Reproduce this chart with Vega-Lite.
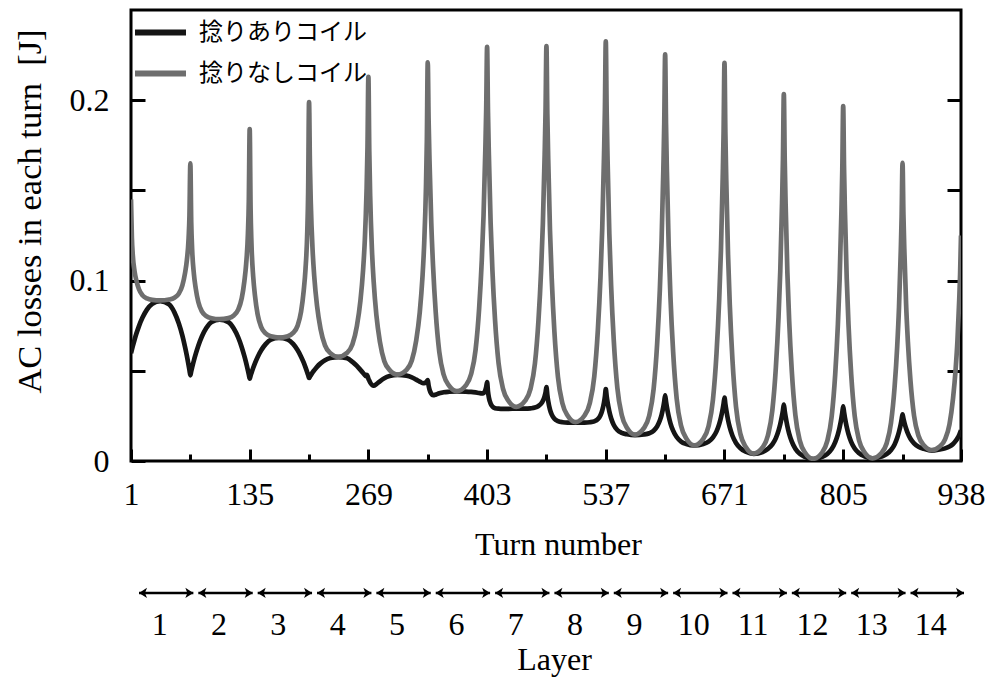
{
  "$schema": "https://vega.github.io/schema/vega-lite/v6.json",
  "padding": {"left": 10, "top": 4, "right": 5, "bottom": 5},
  "bounds": "flush",
  "spacing": 117,
  "config": {
    "font": "Liberation Serif",
    "view": {"stroke": null},
    "axis": {"labelFont": "Liberation Serif", "titleFont": "Liberation Serif", "labelColor": "black", "titleColor": "black", "titleFontWeight": "normal", "tickColor": "black", "grid": false}
  },
  "vconcat": [
    {
      "width": 830,
      "height": 451,
      "view": {"stroke": "black", "strokeWidth": 3},
      "data": {"values": [
        {"turn":1,"twisted":0.0597,"plain":0.145},{"turn":2,"twisted":0.0617,"plain":0.1237},{"turn":3,"twisted":0.0636,"plain":0.1142},{"turn":5,"twisted":0.0672,"plain":0.1052},{"turn":7,"twisted":0.0705,"plain":0.1002},{"turn":10,"twisted":0.0748,"plain":0.0952},{"turn":14,"twisted":0.0795,"plain":0.0918},{"turn":19,"twisted":0.0839,"plain":0.0901},{"turn":25,"twisted":0.0871,"plain":0.0893},{"turn":34,"twisted":0.0886,"plain":0.089},{"turn":44,"twisted":0.0868,"plain":0.0895},{"turn":50,"twisted":0.0824,"plain":0.0905},{"turn":55,"twisted":0.0762,"plain":0.0928},{"turn":59,"twisted":0.0695,"plain":0.0974},{"turn":62,"twisted":0.0632,"plain":0.1042},{"turn":64,"twisted":0.0585,"plain":0.111},{"turn":66,"twisted":0.0532,"plain":0.1232},{"turn":67,"twisted":0.0504,"plain":0.1361},{"turn":68,"twisted":0.0475,"plain":0.165},
        {"turn":69,"twisted":0.0497,"plain":0.1322},{"turn":70,"twisted":0.0518,"plain":0.1175},{"turn":72,"twisted":0.0557,"plain":0.1037},{"turn":74,"twisted":0.0592,"plain":0.0959},{"turn":77,"twisted":0.0639,"plain":0.0881},{"turn":81,"twisted":0.069,"plain":0.0829},{"turn":86,"twisted":0.0737,"plain":0.0803},{"turn":92,"twisted":0.0771,"plain":0.0791},{"turn":101,"twisted":0.0784,"plain":0.0786},{"turn":111,"twisted":0.077,"plain":0.0792},{"turn":117,"twisted":0.0734,"plain":0.0807},{"turn":122,"twisted":0.0685,"plain":0.0839},{"turn":126,"twisted":0.0631,"plain":0.0902},{"turn":129,"twisted":0.0581,"plain":0.0997},{"turn":131,"twisted":0.0544,"plain":0.1092},{"turn":133,"twisted":0.0502,"plain":0.126},{"turn":134,"twisted":0.048,"plain":0.1439},{"turn":135,"twisted":0.0457,"plain":0.184},
        {"turn":136,"twisted":0.0473,"plain":0.1401},{"turn":137,"twisted":0.0488,"plain":0.1204},{"turn":139,"twisted":0.0517,"plain":0.1019},{"turn":141,"twisted":0.0543,"plain":0.0915},{"turn":144,"twisted":0.0577,"plain":0.0811},{"turn":148,"twisted":0.0614,"plain":0.0742},{"turn":153,"twisted":0.0648,"plain":0.0707},{"turn":159,"twisted":0.0673,"plain":0.0691},{"turn":168,"twisted":0.0682,"plain":0.0684},{"turn":178,"twisted":0.0673,"plain":0.0692},{"turn":184,"twisted":0.0649,"plain":0.071},{"turn":189,"twisted":0.0615,"plain":0.0749},{"turn":193,"twisted":0.0578,"plain":0.0828},{"turn":196,"twisted":0.0545,"plain":0.0945},{"turn":198,"twisted":0.0519,"plain":0.1063},{"turn":200,"twisted":0.0491,"plain":0.1272},{"turn":201,"twisted":0.0476,"plain":0.1494},{"turn":202,"twisted":0.046,"plain":0.199},
        {"turn":203,"twisted":0.0468,"plain":0.1637},{"turn":204,"twisted":0.0476,"plain":0.1425},{"turn":206,"twisted":0.0491,"plain":0.117},{"turn":208,"twisted":0.0504,"plain":0.1015},{"turn":211,"twisted":0.0522,"plain":0.086},{"turn":215,"twisted":0.0541,"plain":0.0732},{"turn":220,"twisted":0.0559,"plain":0.0641},{"turn":226,"twisted":0.0571,"plain":0.0598},{"turn":235,"twisted":0.0576,"plain":0.0577},{"turn":245,"twisted":0.0569,"plain":0.06},{"turn":251,"twisted":0.0549,"plain":0.0647},{"turn":256,"twisted":0.0527,"plain":0.0748},{"turn":260,"twisted":0.0505,"plain":0.0888},{"turn":263,"twisted":0.0488,"plain":0.1058},{"turn":265,"twisted":0.0476,"plain":0.1229},{"turn":266,"twisted":0.0471,"plain":0.1354},{"turn":267,"twisted":0.0478,"plain":0.1509},{"turn":268,"twisted":0.0472,"plain":0.1742},{"turn":269,"twisted":0.0456,"plain":0.213},
        {"turn":270,"twisted":0.0446,"plain":0.1717},{"turn":271,"twisted":0.0435,"plain":0.147},{"turn":273,"twisted":0.0422,"plain":0.1172},{"turn":275,"twisted":0.0417,"plain":0.0991},{"turn":278,"twisted":0.0426,"plain":0.0809},{"turn":282,"twisted":0.0442,"plain":0.0661},{"turn":287,"twisted":0.0459,"plain":0.0553},{"turn":293,"twisted":0.0471,"plain":0.0504},{"turn":302,"twisted":0.0477,"plain":0.0479},{"turn":312,"twisted":0.0473,"plain":0.0505},{"turn":318,"twisted":0.0464,"plain":0.0557},{"turn":323,"twisted":0.0451,"plain":0.0669},{"turn":327,"twisted":0.044,"plain":0.0825},{"turn":330,"twisted":0.0432,"plain":0.1016},{"turn":332,"twisted":0.0431,"plain":0.1206},{"turn":334,"twisted":0.0437,"plain":0.1518},{"turn":335,"twisted":0.0442,"plain":0.1777},{"turn":336,"twisted":0.0448,"plain":0.221},
        {"turn":337,"twisted":0.0418,"plain":0.1882},{"turn":338,"twisted":0.0396,"plain":0.1663},{"turn":340,"twisted":0.0373,"plain":0.1317},{"turn":342,"twisted":0.0365,"plain":0.108},{"turn":345,"twisted":0.0368,"plain":0.0825},{"turn":349,"twisted":0.0375,"plain":0.0606},{"turn":354,"twisted":0.0381,"plain":0.0478},{"turn":360,"twisted":0.0384,"plain":0.0418},{"turn":369,"twisted":0.0386,"plain":0.0387},{"turn":379,"twisted":0.0385,"plain":0.0419},{"turn":385,"twisted":0.0383,"plain":0.0482},{"turn":390,"twisted":0.038,"plain":0.0616},{"turn":394,"twisted":0.0377,"plain":0.0845},{"turn":397,"twisted":0.0375,"plain":0.1112},{"turn":399,"twisted":0.0377,"plain":0.1361},{"turn":401,"twisted":0.0392,"plain":0.1723},{"turn":402,"twisted":0.041,"plain":0.1952},{"turn":403,"twisted":0.0438,"plain":0.2296},
        {"turn":404,"twisted":0.0385,"plain":0.1937},{"turn":405,"twisted":0.0352,"plain":0.1697},{"turn":407,"twisted":0.0318,"plain":0.1318},{"turn":409,"twisted":0.0302,"plain":0.1058},{"turn":412,"twisted":0.0293,"plain":0.0779},{"turn":416,"twisted":0.029,"plain":0.054},{"turn":421,"twisted":0.0289,"plain":0.04},{"turn":427,"twisted":0.0289,"plain":0.0334},{"turn":436,"twisted":0.029,"plain":0.03},{"turn":446,"twisted":0.029,"plain":0.0334},{"turn":452,"twisted":0.0292,"plain":0.04},{"turn":457,"twisted":0.0296,"plain":0.054},{"turn":461,"twisted":0.0305,"plain":0.078},{"turn":464,"twisted":0.0318,"plain":0.106},{"turn":466,"twisted":0.0334,"plain":0.132},{"turn":468,"twisted":0.036,"plain":0.17},{"turn":469,"twisted":0.038,"plain":0.194},{"turn":470,"twisted":0.041,"plain":0.23},
        {"turn":471,"twisted":0.0366,"plain":0.1925},{"turn":472,"twisted":0.0332,"plain":0.1675},{"turn":474,"twisted":0.0285,"plain":0.1279},{"turn":476,"twisted":0.0257,"plain":0.1008},{"turn":479,"twisted":0.0234,"plain":0.0716},{"turn":483,"twisted":0.0221,"plain":0.0466},{"turn":488,"twisted":0.0215,"plain":0.032},{"turn":494,"twisted":0.0213,"plain":0.0251},{"turn":503,"twisted":0.0213,"plain":0.0216},{"turn":513,"twisted":0.0213,"plain":0.0252},{"turn":519,"twisted":0.0215,"plain":0.0322},{"turn":524,"twisted":0.022,"plain":0.0469},{"turn":528,"twisted":0.0232,"plain":0.0722},{"turn":531,"twisted":0.0254,"plain":0.1018},{"turn":533,"twisted":0.0281,"plain":0.1292},{"turn":535,"twisted":0.0325,"plain":0.1693},{"turn":536,"twisted":0.0357,"plain":0.1946},{"turn":537,"twisted":0.0398,"plain":0.2326},
        {"turn":538,"twisted":0.0359,"plain":0.1934},{"turn":539,"twisted":0.0326,"plain":0.1672},{"turn":541,"twisted":0.0274,"plain":0.1258},{"turn":543,"twisted":0.0237,"plain":0.0974},{"turn":546,"twisted":0.02,"plain":0.0669},{"turn":550,"twisted":0.0172,"plain":0.0408},{"turn":555,"twisted":0.0156,"plain":0.0255},{"turn":561,"twisted":0.0148,"plain":0.0183},{"turn":570,"twisted":0.0143,"plain":0.0146},{"turn":580,"twisted":0.0147,"plain":0.0182},{"turn":586,"twisted":0.0154,"plain":0.0251},{"turn":591,"twisted":0.0168,"plain":0.0399},{"turn":595,"twisted":0.0192,"plain":0.0652},{"turn":598,"twisted":0.0224,"plain":0.0947},{"turn":600,"twisted":0.0256,"plain":0.1221},{"turn":602,"twisted":0.0301,"plain":0.1622},{"turn":603,"twisted":0.033,"plain":0.1875},{"turn":604,"twisted":0.0364,"plain":0.2254},
        {"turn":605,"twisted":0.0329,"plain":0.1864},{"turn":606,"twisted":0.0298,"plain":0.1604},{"turn":608,"twisted":0.0248,"plain":0.1192},{"turn":610,"twisted":0.0209,"plain":0.091},{"turn":613,"twisted":0.0168,"plain":0.0607},{"turn":617,"twisted":0.0133,"plain":0.0347},{"turn":622,"twisted":0.0108,"plain":0.0195},{"turn":628,"twisted":0.0094,"plain":0.0124},{"turn":637,"twisted":0.0086,"plain":0.0087},{"turn":647,"twisted":0.0094,"plain":0.0123},{"turn":653,"twisted":0.0107,"plain":0.0193},{"turn":658,"twisted":0.0131,"plain":0.0341},{"turn":662,"twisted":0.0164,"plain":0.0596},{"turn":665,"twisted":0.0204,"plain":0.0893},{"turn":667,"twisted":0.0241,"plain":0.1168},{"turn":669,"twisted":0.0289,"plain":0.1571},{"turn":670,"twisted":0.0318,"plain":0.1825},{"turn":671,"twisted":0.0352,"plain":0.2207},
        {"turn":672,"twisted":0.0315,"plain":0.1817},{"turn":673,"twisted":0.0283,"plain":0.1557},{"turn":675,"twisted":0.0228,"plain":0.1146},{"turn":677,"twisted":0.0186,"plain":0.0864},{"turn":680,"twisted":0.014,"plain":0.0561},{"turn":684,"twisted":0.01,"plain":0.0301},{"turn":689,"twisted":0.0071,"plain":0.0149},{"turn":695,"twisted":0.0052,"plain":0.0078},{"turn":704,"twisted":0.004,"plain":0.0041},{"turn":714,"twisted":0.005,"plain":0.0075},{"turn":720,"twisted":0.0067,"plain":0.0141},{"turn":725,"twisted":0.0092,"plain":0.028},{"turn":729,"twisted":0.0127,"plain":0.0519},{"turn":732,"twisted":0.0168,"plain":0.0798},{"turn":734,"twisted":0.0205,"plain":0.1057},{"turn":736,"twisted":0.0252,"plain":0.1436},{"turn":737,"twisted":0.0281,"plain":0.1675},{"turn":738,"twisted":0.0313,"plain":0.2034},
        {"turn":739,"twisted":0.0277,"plain":0.167},{"turn":740,"twisted":0.0246,"plain":0.1427},{"turn":742,"twisted":0.0193,"plain":0.1043},{"turn":744,"twisted":0.0152,"plain":0.078},{"turn":747,"twisted":0.0107,"plain":0.0497},{"turn":751,"twisted":0.0068,"plain":0.0255},{"turn":756,"twisted":0.004,"plain":0.0113},{"turn":762,"twisted":0.0023,"plain":0.0046},{"turn":771,"twisted":0.001,"plain":0.0012},{"turn":781,"twisted":0.0023,"plain":0.0045},{"turn":787,"twisted":0.0039,"plain":0.011},{"turn":792,"twisted":0.0066,"plain":0.0247},{"turn":796,"twisted":0.0104,"plain":0.0481},{"turn":799,"twisted":0.0147,"plain":0.0755},{"turn":801,"twisted":0.0187,"plain":0.1009},{"turn":803,"twisted":0.0238,"plain":0.1381},{"turn":804,"twisted":0.0268,"plain":0.1615},{"turn":805,"twisted":0.0303,"plain":0.1967},
        {"turn":806,"twisted":0.0269,"plain":0.1616},{"turn":807,"twisted":0.0239,"plain":0.1381},{"turn":809,"twisted":0.0188,"plain":0.1011},{"turn":811,"twisted":0.0149,"plain":0.0757},{"turn":814,"twisted":0.0106,"plain":0.0483},{"turn":818,"twisted":0.0069,"plain":0.0249},{"turn":823,"twisted":0.0043,"plain":0.0113},{"turn":829,"twisted":0.0026,"plain":0.0048},{"turn":838,"twisted":0.0014,"plain":0.0015},{"turn":848,"twisted":0.0024,"plain":0.0043},{"turn":854,"twisted":0.0038,"plain":0.0097},{"turn":859,"twisted":0.0061,"plain":0.0212},{"turn":863,"twisted":0.0092,"plain":0.0408},{"turn":866,"twisted":0.0129,"plain":0.0637},{"turn":868,"twisted":0.0162,"plain":0.085},{"turn":870,"twisted":0.0204,"plain":0.1162},{"turn":871,"twisted":0.023,"plain":0.1358},{"turn":872,"twisted":0.0259,"plain":0.1653},
        {"turn":873,"twisted":0.0235,"plain":0.1366},{"turn":874,"twisted":0.0215,"plain":0.1175},{"turn":876,"twisted":0.018,"plain":0.0872},{"turn":878,"twisted":0.0153,"plain":0.0665},{"turn":881,"twisted":0.0123,"plain":0.0442},{"turn":885,"twisted":0.0098,"plain":0.0251},{"turn":890,"twisted":0.0079,"plain":0.014},{"turn":896,"twisted":0.0068,"plain":0.0087},{"turn":905,"twisted":0.0058,"plain":0.006},{"turn":914,"twisted":0.0064,"plain":0.008},{"turn":920,"twisted":0.007,"plain":0.012},{"turn":925,"twisted":0.008,"plain":0.0203},{"turn":929,"twisted":0.0094,"plain":0.0346},{"turn":932,"twisted":0.0111,"plain":0.0512},{"turn":934,"twisted":0.0126,"plain":0.0667},{"turn":936,"twisted":0.0145,"plain":0.0893},{"turn":937,"twisted":0.0157,"plain":0.1036},{"turn":938,"twisted":0.017,"plain":0.125}
      ]},
      "transform": [{"fold": ["twisted", "plain"], "as": ["coil", "loss"]}],
      "layer": [
        {
          "mark": {"type": "line", "interpolate": "monotone", "strokeWidth": 4.7, "clip": true},
          "encoding": {
            "x": {
              "field": "turn", "type": "quantitative",
              "scale": {"domain": [1, 938], "nice": false, "zero": false},
              "axis": {"orient": "bottom", "values": [1, 135, 269, 403, 537, 671, 805, 938], "format": "d", "domain": false, "tickSize": -12, "tickWidth": 3, "labelFontSize": 32, "labelPadding": 30, "labelFlush": false, "labelOverlap": false, "title": "Turn number", "titleFontSize": 32, "titlePadding": 19, "titleX": 427}
            },
            "y": {
              "field": "loss", "type": "quantitative",
              "scale": {"domain": [0, 0.25], "nice": false, "zero": true},
              "axis": {"orient": "left", "values": [0, 0.05, 0.1, 0.15, 0.2], "labelExpr": "datum.value == 0 ? '0' : (datum.value == 0.1 ? '0.1' : (datum.value == 0.2 ? '0.2' : ''))", "domain": false, "tickSize": -14, "tickWidth": 3, "labelFontSize": 32, "labelPadding": 36, "labelOverlap": false, "labelFlush": false, "title": "AC losses in each turn\u00a0\u00a0[J]", "titleFontSize": 34.5, "titleX": -101, "titleY": 201, "titleBaseline": "middle"}
            },
            "color": {
              "field": "coil", "type": "nominal",
              "scale": {"domain": ["twisted", "plain"], "range": ["#151515", "#6e6e6e"]},
              "legend": {"orient": "none", "legendX": 1, "legendY": -6, "title": null, "padding": 0, "symbolType": "stroke", "symbolSize": 2600, "symbolStrokeWidth": 6, "labelFont": "Noto Sans CJK JP", "labelFontSize": 24, "labelColor": "black", "labelOffset": 10, "labelLimit": 400, "rowPadding": -4, "labelExpr": "datum.label == 'twisted' ? '捻りありコイル' : '捻りなしコイル'"}
            }
          }
        },
        {
          "mark": {"type": "line", "strokeOpacity": 0},
          "encoding": {
            "x": {"field": "turn", "type": "quantitative", "axis": {"orient": "bottom", "values": [68, 202, 336, 470, 604, 738, 872], "labels": false, "domain": false, "tickSize": -7, "tickWidth": 3, "title": null}},
            "y": {"field": "loss", "type": "quantitative", "axis": {"orient": "right", "values": [0.05, 0.1, 0.15, 0.2], "labels": false, "domain": false, "tickSize": -14, "tickWidth": 3, "title": null}}
          }
        }
      ],
      "resolve": {"axis": {"x": "independent", "y": "independent"}}
    },
    {
      "width": 830,
      "height": 62,
      "data": {"values": [
        {"layer": 1, "first": 1, "last": 68, "mid": 34.5},
        {"layer": 2, "first": 68, "last": 135, "mid": 101.5},
        {"layer": 3, "first": 135, "last": 202, "mid": 168.5},
        {"layer": 4, "first": 202, "last": 269, "mid": 235.5},
        {"layer": 5, "first": 269, "last": 336, "mid": 302.5},
        {"layer": 6, "first": 336, "last": 403, "mid": 369.5},
        {"layer": 7, "first": 403, "last": 470, "mid": 436.5},
        {"layer": 8, "first": 470, "last": 537, "mid": 503.5},
        {"layer": 9, "first": 537, "last": 604, "mid": 570.5},
        {"layer": 10, "first": 604, "last": 671, "mid": 637.5},
        {"layer": 11, "first": 671, "last": 738, "mid": 704.5},
        {"layer": 12, "first": 738, "last": 805, "mid": 771.5},
        {"layer": 13, "first": 805, "last": 872, "mid": 838.5},
        {"layer": 14, "first": 872, "last": 938, "mid": 905}
      ]},
      "layer": [
        {
          "mark": {"type": "rule", "strokeWidth": 2.5, "color": "black", "xOffset": 8, "x2Offset": 3},
          "encoding": {
            "x": {"field": "first", "type": "quantitative", "scale": {"domain": [1, 938], "nice": false, "zero": false},
                  "axis": {"title": "Layer", "labels": false, "ticks": false, "domain": false, "titleFontSize": 32, "titlePadding": 4, "titleX": 423}},
            "x2": {"field": "last"},
            "y": {"datum": 0.76, "type": "quantitative", "scale": {"domain": [0, 1]}, "axis": null}
          }
        },
        {
          "mark": {"type": "point", "shape": "M0,0L2,-1.3L1.5,0L2,1.3Z", "size": 64, "filled": true, "opacity": 1, "color": "black", "xOffset": 8},
          "encoding": {
            "x": {"field": "first", "type": "quantitative"},
            "y": {"datum": 0.76, "type": "quantitative"}
          }
        },
        {
          "mark": {"type": "point", "shape": "M0,0L-2,-1.3L-1.5,0L-2,1.3Z", "size": 64, "filled": true, "opacity": 1, "color": "black", "xOffset": 3},
          "encoding": {
            "x": {"field": "last", "type": "quantitative"},
            "y": {"datum": 0.76, "type": "quantitative"}
          }
        },
        {
          "mark": {"type": "text", "fontSize": 32, "baseline": "middle", "align": "center", "dx": -1, "color": "black"},
          "encoding": {
            "x": {"field": "mid", "type": "quantitative"},
            "y": {"datum": 0.24, "type": "quantitative"},
            "text": {"field": "layer", "type": "nominal"}
          }
        }
      ]
    }
  ]
}
